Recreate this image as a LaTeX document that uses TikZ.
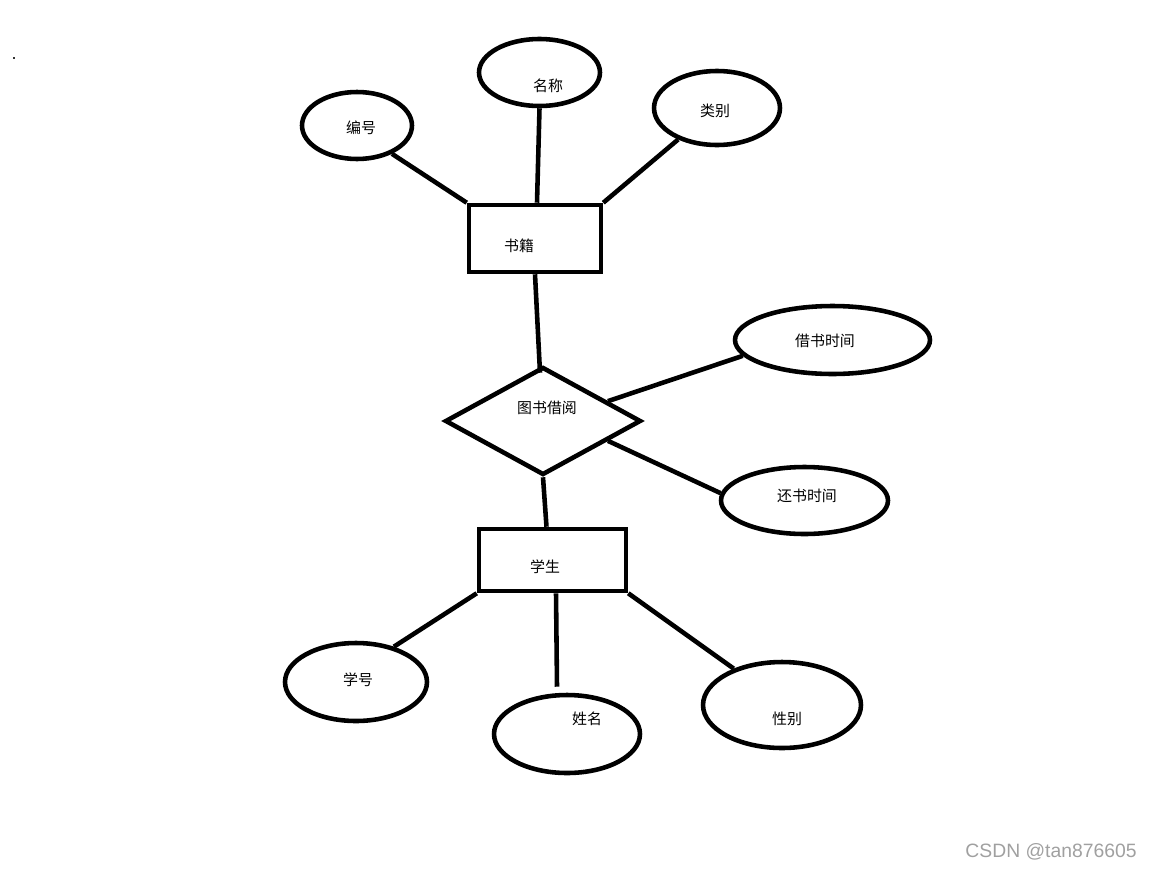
\documentclass[tikz,border=0pt]{standalone}
\usepackage{fontspec}
\usepackage{tikz}
\usetikzlibrary{shapes.geometric}
\newfontfamily\cjk{Noto Sans CJK SC}
\newfontfamily\wmfont{Liberation Sans}
\definecolor{wmgray}{RGB}{160, 160, 160}
\tikzset{
  entity/.style   = {draw, rectangle, line width=2.6pt, inner sep=0pt},
  attrib/.style   = {draw, ellipse,   line width=2.6pt, inner sep=0pt},
  relation/.style = {draw, diamond,   line width=2.6pt, inner sep=0pt},
  link/.style     = {line width=2.6pt},
}

\begin{document}
\begin{tikzpicture}[x=0.02cm, y=-0.02cm, font=\cjk\fontsize{8.5}{10}\selectfont]
            % Frame to ensure alignment:
            \useasboundingbox (0,0) rectangle (1152,869);
            \fill[black!80] (13,57) rectangle (15,59);
            % Book and its attributes:
            \node[entity,   minimum width=2.64cm, minimum height=1.34cm, label={[xshift=-0.32cm, yshift=-0.15cm]center:书籍}]     (shuji)      at (535,238.5) {};
            \node[attrib,   minimum width=2.20cm, minimum height=1.34cm, label={[xshift=0.08cm,  yshift=-0.05cm]center:编号}]     (bianhao)    at (357,125.5) {};
            \node[attrib,   minimum width=2.42cm, minimum height=1.34cm, label={[xshift=0.17cm,  yshift=-0.27cm]center:名称}]     (mingcheng)  at (539.5,72.5) {};
            \node[attrib,   minimum width=2.52cm, minimum height=1.48cm, label={[xshift=-0.04cm, yshift=-0.06cm]center:类别}]     (leibie)     at (717,108) {};
            % Borrowing relation:
            \node[relation, minimum width=3.92cm, minimum height=2.16cm, label={[xshift=0.08cm,  yshift=0.26cm]center:图书借阅}]   (jieyue)     at (543,421) {};
            \node[attrib,   minimum width=3.90cm, minimum height=1.36cm, label={[xshift=-0.15cm, yshift=-0.02cm]center:借书时间}] (jieshu)     at (832.5,340) {};
            \node[attrib,   minimum width=3.34cm, minimum height=1.34cm, label={[xshift=0.05cm,  yshift=0.09cm]center:还书时间}]  (huanshu)    at (804.5,500.5) {};
            % Student and its attributes:
            \node[entity,   minimum width=2.94cm, minimum height=1.24cm, label={[xshift=-0.15cm, yshift=-0.14cm]center:学生}]     (xuesheng)   at (552.5,560) {};
            \node[attrib,   minimum width=2.84cm, minimum height=1.56cm, label={[xshift=0.04cm,  yshift=0.04cm]center:学号}]      (xuehao)     at (356,682) {};
            \node[attrib,   minimum width=2.92cm, minimum height=1.56cm, label={[xshift=0.40cm,  yshift=0.30cm]center:姓名}]      (xingming)   at (567,734) {};
            \node[attrib,   minimum width=3.16cm, minimum height=1.72cm, label={[xshift=0.10cm,  yshift=-0.28cm]center:性别}]     (xingbie)    at (782,705) {};

            \draw[link] (bianhao.-39)   -- (shuji.north west);
            \draw[link] (mingcheng.south) -- ([shift={(2,0)}]shuji.north);
            \draw[link] (leibie.-141)   -- (shuji.north east);
            \draw[link] (shuji.south)   -- ([shift={(-3,8)}]jieyue.north);
            \draw[link] (jieyue.17)     -- (jieshu.-170);
            \draw[link] (jieyue.-17)    -- (huanshu.175);
            \draw[link] (jieyue.south)  -- ([shift={(-6,0)}]xuesheng.north);
            \draw[link] (xuesheng.south west) -- (xuehao.43);
            \draw[link] ([shift={(3.5,0)}]xuesheng.south) -- ([shift={(-10,-6)}]xingming.north);
            \draw[link] (xuesheng.south east) -- (xingbie.143);

            \node[font=\wmfont\fontsize{11}{13}\selectfont, text=wmgray] (csdn) at (1051,852) {CSDN @tan876605};
\end{tikzpicture}
\end{document}
